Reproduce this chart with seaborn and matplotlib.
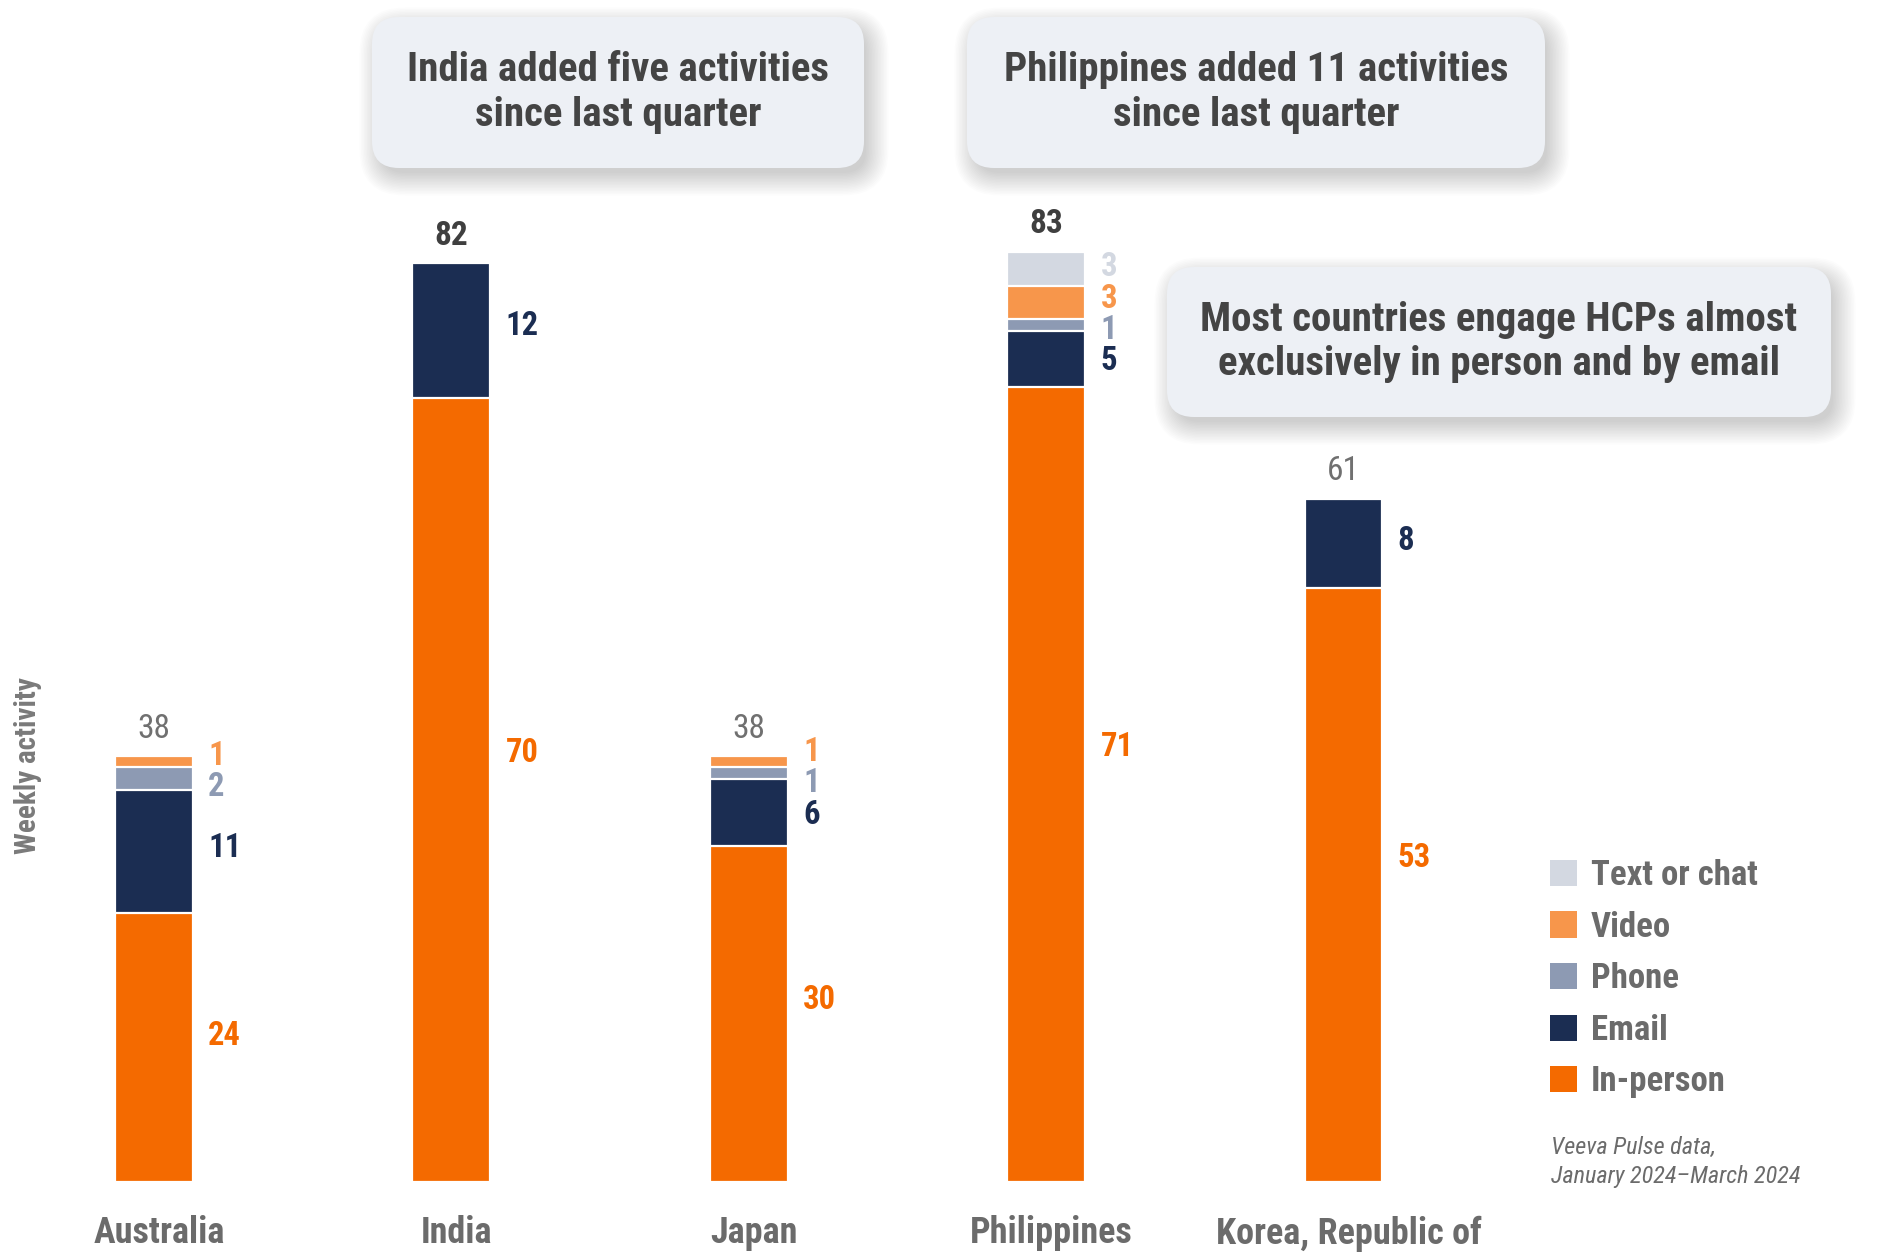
import numpy as np
import matplotlib
matplotlib.use("Agg")
import matplotlib.pyplot as plt
from matplotlib.patches import FancyBboxPatch, Patch
from matplotlib.transforms import IdentityTransform, ScaledTranslation
import seaborn as sns

# ---------------- data ----------------
countries = ["Australia", "India", "Japan", "Philippines", "Korea, Republic of"]
channels = ["In-person", "Email", "Phone", "Video", "Text or chat"]  # bottom -> top
in_person = [24, 70, 30, 71, 53]
email = [11, 12, 6, 5, 8]
phone = [2, 0, 1, 1, 0]
video = [1, 0, 1, 3, 0]
text_chat = [0, 0, 0, 3, 0]
highlight = [False, True, False, True, False]
callouts = [
    "India added five activities\nsince last quarter",
    "Philippines added 11 activities\nsince last quarter",
    "Most countries engage HCPs almost\nexclusively in person and by email",
]
source_note = "Veeva Pulse data,\nJanuary 2024\u2013March 2024"
y_title = "Weekly activity"

# ---------------- style ----------------
colors = {
    "In-person": "#f46a00",
    "Email": "#1b2d52",
    "Phone": "#8d9ab3",
    "Video": "#f7964b",
    "Text or chat": "#d3d8e1",
}
GREY = "#6b6b6b"
sns.set_theme(style="white")
plt.rcParams["font.family"] = ["Roboto Condensed", "DejaVu Sans"]

W, H = 1880, 1258
fig = plt.figure(figsize=(W / 100, H / 100), dpi=100)
ax = fig.add_axes([0, 76 / H, 1, 1182 / H])

values = np.array([in_person, email, phone, video, text_chat], dtype=float)
cum = values.cumsum(axis=0)
totals = cum[-1]
bar_w = 0.262

# stacked bars: draw cumulative heights from the top layer down
for k in reversed(range(len(channels))):
    sns.barplot(x=countries, y=cum[k], order=countries, color=colors[channels[k]],
                saturation=1, width=bar_w, edgecolor="white", linewidth=1.6, ax=ax)

ax.set_xlim(-0.518, 5.804)
ax.set_ylim(0, 105.5)
for s in ax.spines.values():
    s.set_visible(False)
ax.set_yticks([])
ax.set_xlabel("")
ax.set_ylabel("")
ax.set_xticks(range(len(countries)), countries, fontsize=26, fontweight="bold", color=GREY)
ax.tick_params(axis="x", length=0, pad=24)
shift = ScaledTranslation(5 / 100, 0, fig.dpi_scale_trans)
for lab in ax.get_xticklabels():
    lab.set_transform(lab.get_transform() + shift)


def spread(ys, gap=2.8):
    ys = list(ys)
    for _ in range(100):
        moved = False
        for j in range(len(ys) - 1):
            d = ys[j + 1] - ys[j]
            if d < gap - 1e-6:
                sh = (gap - d) / 2
                ys[j] -= sh
                ys[j + 1] += sh
                moved = True
        if not moved:
            break
    return ys


LABEL_FRAC = 0.55  # label sits slightly above the segment middle
for i, c in enumerate(countries):
    hl = highlight[i]
    ax.annotate(f"{int(totals[i])}", (i, totals[i]), xytext=(0, 13.5), textcoords="offset points",
                ha="center", va="baseline", fontsize=24,
                fontweight="bold" if hl else "normal",
                color="#3f3f3f" if hl else "#707070")
    segs = [(k, values[k, i], cum[k, i] - values[k, i] * (1 - LABEL_FRAC))
            for k in range(len(channels)) if values[k, i] > 0]
    ys = spread([s[2] for s in segs])
    for (k, v, _), y in zip(segs, ys):
        ax.annotate(f"{int(v)}", (i + bar_w / 2, y), xytext=(11, -8.2), textcoords="offset points",
                    ha="left", va="baseline", fontsize=23.5, fontweight="bold",
                    color=colors[channels[k]])

# y title
fig.text(28 / W, 1 - 766 / H, y_title, rotation=90, ha="center", va="center",
         fontsize=21, fontweight="bold", color="#7a7a7a")


# callout boxes (pixel coordinates, top-left origin)
def callout(x0, y0, x1, y1, txt):
    w, h = x1 - x0, y1 - y0
    by = H - y1
    for e in np.arange(-4, 19, 1.5):
        sh = FancyBboxPatch((x0 + 6 - e, by - 9 - e), w + 2 * e, h + 2 * e,
                            boxstyle=f"round,pad=0,rounding_size={max(27 + e, 4)}",
                            transform=IdentityTransform(), facecolor="#000000",
                            edgecolor="none", alpha=0.013, zorder=5)
        fig.add_artist(sh)
    box = FancyBboxPatch((x0, by), w, h, boxstyle="round,pad=0,rounding_size=27",
                         transform=IdentityTransform(), facecolor="#edf0f5",
                         edgecolor="none", zorder=6)
    fig.add_artist(box)
    fig.text((x0 + x1) / 2 / W, 1 - ((y0 + y1) / 2) / H, txt, ha="center", va="center",
             multialignment="center", fontsize=29.5, fontweight="bold", color="#444444",
             linespacing=1.22, zorder=7)


boxes = [(372, 17, 864, 168), (967, 17, 1545, 168), (1167, 267, 1831, 417)]
for (x0, y0, x1, y1), t in zip(boxes, callouts):
    callout(x0, y0, x1, y1, t)

# legend
handles = [Patch(facecolor=colors[c], edgecolor="none", label=c) for c in reversed(channels)]
fig.legend(handles=handles, loc="upper left", bbox_to_anchor=(1550 / W, 1 - 859 / H),
           frameon=False, prop={"weight": "bold", "size": 25}, labelcolor=GREY,
           handlelength=0.78, handleheight=0.78, handletextpad=0.4, labelspacing=0.535,
           borderpad=0, borderaxespad=0)

fig.text(1551 / W, 1 - 1162 / H, source_note, ha="left", va="center", fontsize=17.5,
         style="italic", color=GREY, linespacing=1.38)

fig.savefig("out.png", dpi=100)
